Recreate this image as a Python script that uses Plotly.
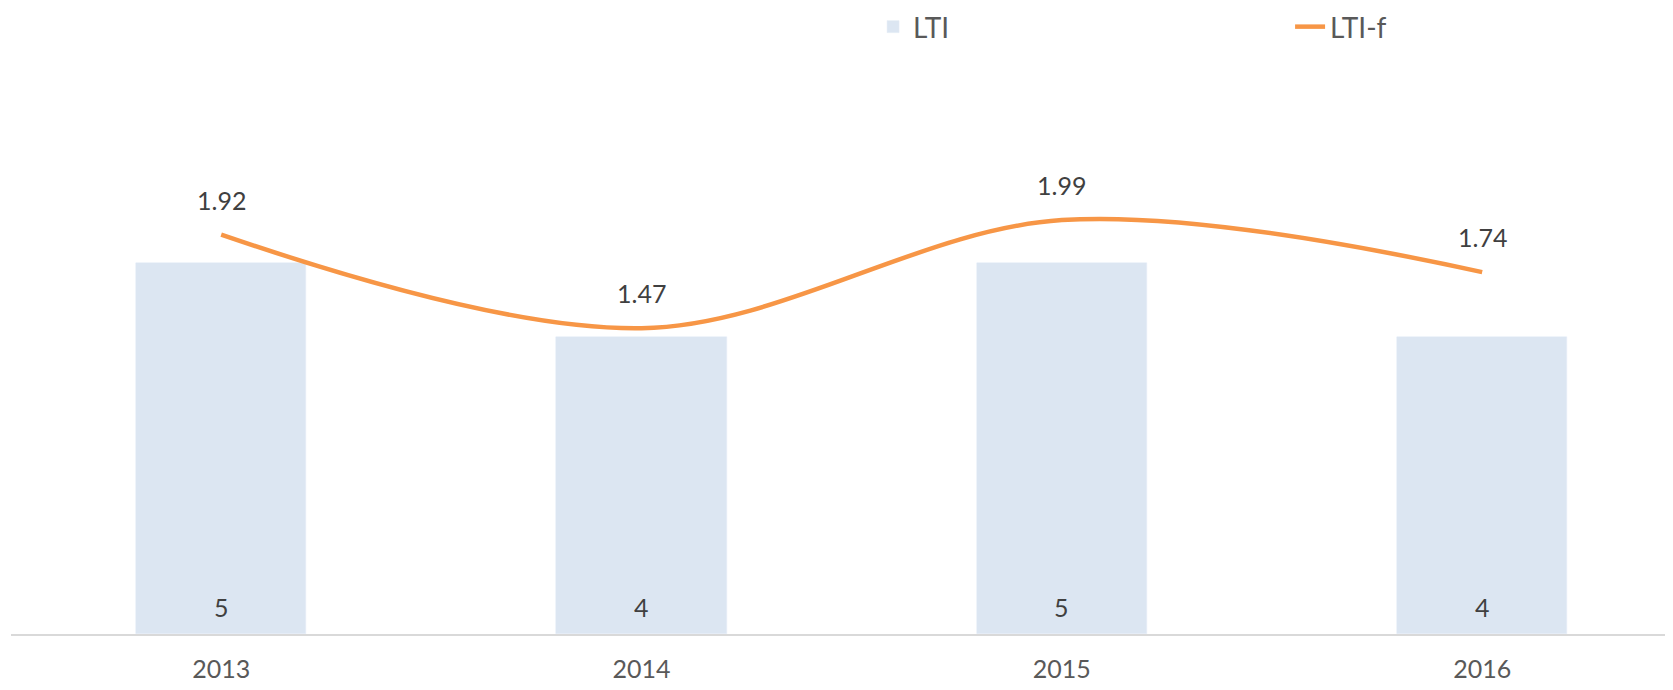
import plotly.graph_objects as go

years = ["2013", "2014", "2015", "2016"]
lti = [5, 4, 5, 4]
lti_f = [1.92, 1.47, 1.99, 1.74]

BAR_COLOR = "#DCE6F2"
LINE_COLOR = "#F79646"
FONT = "Lato"

fig = go.Figure()
fig.add_trace(go.Bar(
    x=years, y=lti, name="LTI", marker_color=BAR_COLOR, width=0.405,
    legend="legend", showlegend=True,
))
fig.add_trace(go.Scatter(
    x=years, y=lti_f, name="LTI-f", mode="lines", yaxis="y2",
    line=dict(color=LINE_COLOR, width=4.5, shape="spline", smoothing=1),
    legend="legend2", showlegend=True,
))

annotations = []
# category axes take annotation positions as category indices
for i, v in enumerate(lti):
    annotations.append(dict(x=i, y=0, xref="x", yref="y", text=str(v),
                            showarrow=False, yshift=27,
                            font=dict(family=FONT, size=25, color="#404040")))
for i, v in enumerate(lti_f):
    annotations.append(dict(x=i, y=v, xref="x", yref="y2", text=f"{v:.2f}",
                            showarrow=False, yshift=35,
                            font=dict(family=FONT, size=25, color="#404040")))

legend_font = dict(family=FONT, size=28, color="#595959")

fig.update_layout(
    width=1665, height=682,
    showlegend=True,
    margin=dict(l=3, r=0, t=106, b=56, autoexpand=False),
    paper_bgcolor="white", plot_bgcolor="white",
    font=dict(family=FONT, size=25, color="#595959"),
    xaxis=dict(type="category", range=[-0.5, 3.454], showline=True,
               linecolor="#D9D9D9", linewidth=1.5, showgrid=False,
               ticks="", ticklabelstandoff=12,
               tickfont=dict(family=FONT, size=25, color="#595959")),
    yaxis=dict(range=[0, 7], showgrid=False, showticklabels=False,
               zeroline=False, showline=False),
    yaxis2=dict(range=[0, 2.5], overlaying="y", side="right", showgrid=False,
                showticklabels=False, zeroline=False, showline=False),
    legend=dict(orientation="h", x=0.5187, y=1.2155, xanchor="left",
                yanchor="top", font=legend_font),
    legend2=dict(orientation="h", x=0.7696, y=1.2155, xanchor="left",
                 yanchor="top", font=legend_font),
    annotations=annotations,
    bargap=0,
)

fig.write_html("out.html")
